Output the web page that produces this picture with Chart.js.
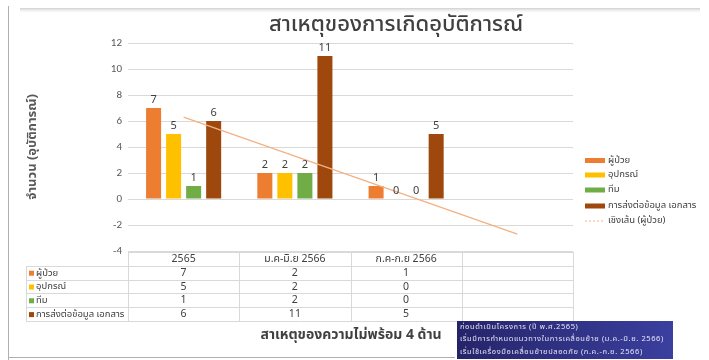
<!DOCTYPE html>
<html>
<head>
<meta charset="utf-8">
<script src="https://cdn.jsdelivr.net/npm/chart.js@4.4.1/dist/chart.umd.min.js"></script>
<style>
  html, body { margin: 0; padding: 0; background: #fff; }
  #wrap { width: 709px; height: 360px; position: relative; }
</style>
</head>
<body>
<div id="wrap"><canvas id="incidentChart" width="709" height="360"></canvas></div>
<script>
// categories (4th column is empty in the original)
var categories = ['2565', 'ม.ค-มิ.ย 2566', 'ก.ค-ก.ย 2566', ''];
var seriesNames = ['ผู้ป่วย', 'อุปกรณ์', 'ทีม', 'การส่งต่อข้อมูล เอกสาร'];
var patientValues = [7, 2, 1, null];
var equipmentValues = [5, 2, 0, null];
var teamValues = [1, 2, 0, null];
var documentValues = [6, 11, 5, null];
var trendName = 'เชิงเส้น (ผู้ป่วย)';
var trendValues = [6.3, 3.3, 0.3, -2.7];
var yTicks = [-4, -2, 0, 2, 4, 6, 8, 10, 12];

var chartTitle = 'สาเหตุของการเกิดอุบัติการณ์';
var yTitle = 'จำนวน (อุบัติการณ์)';
var xTitle = 'สาเหตุของความไม่พร้อม 4 ด้าน';
var noteLines = [
    'ก่อนดำเนินโครงการ (ปี พ.ศ.2565)',
    'เริ่มมีการกำหนดแนวทางในการเคลื่อนย้าย (ม.ค.-มิ.ย. 2566)',
    'เริ่มใช้เครื่องมือเคลื่อนย้ายปลอดภัย (ก.ค.-ก.ย. 2566)'
];

var colors = ['#ed7d31', '#ffc000', '#70ad47', '#9e480e'];
var thaiFont = "'Noto Sans Thai', 'Noto Sans Thai UI', Tahoma, 'DejaVu Sans', sans-serif";

// draws the title, labels, legend, data table and the note box
var decorPlugin = {
    id: 'decor',
    afterDraw: function (chart) {
        var ctx = chart.ctx;
        var area = chart.chartArea;
        var xScale = chart.scales.x;
        ctx.save();

        // frame bits of the screenshot
        ctx.strokeStyle = '#b0b0b0';
        ctx.lineWidth = 1;
        ctx.beginPath();
        ctx.moveTo(8.5, 6); ctx.lineTo(8.5, 360);
        ctx.moveTo(8, 357.5); ctx.lineTo(455, 357.5);
        ctx.stroke();
        var g = ctx.createLinearGradient(0, 8, 0, 14);
        g.addColorStop(0, 'rgba(120,120,120,0.35)');
        g.addColorStop(1, 'rgba(255,255,255,0)');
        ctx.fillStyle = g;
        ctx.fillRect(20, 8, 680, 6);

        // title
        ctx.fillStyle = '#404040';
        ctx.font = '500 22px ' + thaiFont;
        ctx.textAlign = 'center';
        ctx.textBaseline = 'middle';
        ctx.fillText(chartTitle, 396, 27);

        // y title
        ctx.save();
        ctx.translate(33, 147);
        ctx.rotate(-Math.PI / 2);
        ctx.font = 'bold 13px ' + thaiFont;
        ctx.fillStyle = '#595959';
        ctx.fillText(yTitle, 0, 0);
        ctx.restore();

        // data labels on bars
        ctx.font = '11px ' + thaiFont;
        ctx.fillStyle = '#404040';
        ctx.textBaseline = 'bottom';
        chart.data.datasets.forEach(function (ds, i) {
            if (ds.type === 'line') return;
            chart.getDatasetMeta(i).data.forEach(function (bar, j) {
                var v = ds.data[j];
                if (v === null) return;
                ctx.fillText(String(v), bar.x, bar.y - 2);
            });
        });

        // data table
        var top = area.bottom + 1;
        var rowH = 13.8;
        var labelLeft = 26;
        var colW = (area.right - area.left) / categories.length;
        ctx.strokeStyle = '#d9d9d9';
        ctx.lineWidth = 1;
        ctx.beginPath();
        ctx.moveTo(area.left, top + 0.5); ctx.lineTo(area.right, top + 0.5);
        for (var r = 1; r <= seriesNames.length + 1; r++) {
            var yy = Math.round(top + r * rowH) + 0.5;
            ctx.moveTo(labelLeft, yy); ctx.lineTo(area.right, yy);
        }
        var bottom = Math.round(top + (seriesNames.length + 1) * rowH);
        ctx.moveTo(labelLeft + 0.5, Math.round(top + rowH)); ctx.lineTo(labelLeft + 0.5, bottom);
        for (var c = 0; c <= categories.length; c++) {
            var xx = Math.round(area.left + c * colW) + 0.5;
            ctx.moveTo(xx, top); ctx.lineTo(xx, bottom);
        }
        ctx.stroke();

        var allValues = [patientValues, equipmentValues, teamValues, documentValues];
        ctx.font = '10.5px ' + thaiFont;
        ctx.fillStyle = '#404040';
        ctx.textBaseline = 'middle';
        ctx.textAlign = 'center';
        categories.forEach(function (cat, k) {
            ctx.fillText(cat, xScale.getPixelForValue(k), top + rowH / 2 + 1);
        });
        seriesNames.forEach(function (name, r) {
            var cy = top + (r + 1.5) * rowH + 1;
            ctx.fillStyle = colors[r];
            ctx.fillRect(29, cy - 3, 5, 5);
            ctx.fillStyle = '#404040';
            ctx.textAlign = 'left';
            ctx.font = '9.5px ' + thaiFont;
            ctx.fillText(name, 36, cy);
            ctx.font = '10.5px ' + thaiFont;
            ctx.textAlign = 'center';
            allValues[r].forEach(function (v, k) {
                if (v === null) return;
                ctx.fillText(String(v), xScale.getPixelForValue(k), cy);
            });
        });

        // x title
        ctx.font = 'bold 14px ' + thaiFont;
        ctx.fillStyle = '#404040';
        ctx.textAlign = 'center';
        ctx.fillText(xTitle, 351, 336);

        // legend
        ctx.font = '9.5px ' + thaiFont;
        ctx.textAlign = 'left';
        var ly = [160, 174.5, 189.5, 205.5, 220.5];
        chart.data.datasets.forEach(function (ds, i) {
            if (ds.type === 'line') {
                ctx.strokeStyle = ds.borderColor;
                ctx.setLineDash([2, 2]);
                ctx.beginPath();
                ctx.moveTo(585, ly[i] + 0.5); ctx.lineTo(605, ly[i] + 0.5);
                ctx.stroke();
                ctx.setLineDash([]);
            } else {
                ctx.fillStyle = ds.backgroundColor;
                ctx.fillRect(585, ly[i] - 2, 20, 5);
            }
            ctx.fillStyle = '#404040';
            ctx.fillText(ds.label, 608, ly[i] + 1);
        });

        // note box
        var bg = ctx.createLinearGradient(457, 0, 673, 0);
        bg.addColorStop(0, '#25246a');
        bg.addColorStop(1, '#3b3f9e');
        ctx.fillStyle = bg;
        ctx.fillRect(457, 321, 216, 38);
        ctx.fillStyle = '#e6e6f5';
        ctx.font = '7.5px ' + thaiFont;
        ctx.letterSpacing = '0.6px';
        noteLines.forEach(function (line, n) {
            ctx.fillText(line, 460, 327 + n * 12.5);
        });
        ctx.letterSpacing = '0px';

        ctx.restore();
    }
};

var ctx = document.getElementById('incidentChart').getContext('2d');
var barValues = [patientValues, equipmentValues, teamValues, documentValues];

var datasets = seriesNames.map(function (name, i) {
    return {
        type: 'bar',
        label: name,
        data: barValues[i],
        backgroundColor: colors[i],
        borderWidth: 0,
        categoryPercentage: 0.72,
        barPercentage: 0.75,
        order: 1
    };
});
datasets.push({
    type: 'line',
    label: trendName,
    data: trendValues,
    borderColor: '#f4b183',
    borderWidth: 1.3,
    pointRadius: 0,
    fill: false,
    tension: 0,
    order: 0
});

var incidentChart = new Chart(ctx, {
    type: 'bar',
    data: { labels: categories, datasets: datasets },
    options: {
        responsive: false,
        animation: false,
        layout: { padding: { left: 0, top: 43, right: 136, bottom: 109 } },
        plugins: {
            legend: { display: false },
            title: { display: false },
            tooltip: { enabled: false }
        },
        scales: {
            x: {
                display: false,
                offset: true,
                grid: { display: false }
            },
            y: {
                min: -4,
                max: 12,
                afterFit: function (scale) { scale.width = 128; },
                afterBuildTicks: function (scale) {
                    scale.ticks = yTicks.map(function (v) { return { value: v }; });
                },
                border: { display: false },
                grid: { color: '#d9d9d9', drawTicks: false },
                ticks: {
                    color: '#595959',
                    font: { size: 11, family: "Calibri, Carlito, 'Liberation Sans', sans-serif" },
                    padding: 6
                }
            }
        }
    },
    plugins: [decorPlugin]
});
</script>
</body>
</html>
